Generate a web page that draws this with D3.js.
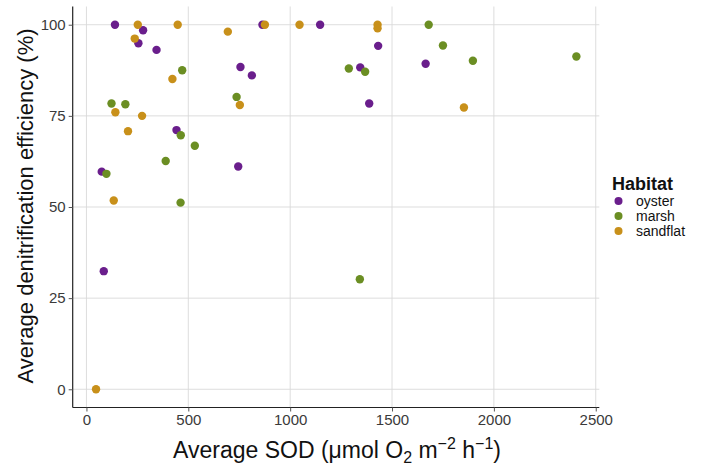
<!DOCTYPE html>
<html>
<head>
<meta charset="utf-8">
<script src="https://cdn.jsdelivr.net/npm/d3@7"></script>
<style>
  body { margin: 0; background: #fff; }
  svg { font-family: "Liberation Sans", Arial, sans-serif; }
</style>
</head>
<body>
<div id="chart"></div>
<script>
// Data: [Average SOD, Average denitrification efficiency]
const oyster = [
    [140, 100], [278, 98.5], [255, 94.9], [344, 93.1], [864, 100], [1147, 100],
    [756, 88.4], [812, 86.1], [442, 71.1], [745, 61.1], [75, 59.7], [85, 32.4],
    [1432, 94.2], [1665, 89.3], [1344, 88.3], [1388, 78.4]
];
const marsh = [
    [470, 87.5], [123, 78.4], [191, 78.2], [737, 80.2], [463, 69.7], [532, 66.8],
    [389, 62.6], [98, 59.1], [462, 51.2], [1680, 100], [1750, 94.3], [1897, 90.1],
    [2405, 91.3], [1288, 88.0], [1368, 87.1], [1342, 30.2]
];
const sandflat = [
    [252, 100], [448, 100], [237, 96.2], [694, 98.1], [876, 100], [1046, 100],
    [422, 85.1], [142, 76.0], [273, 75.0], [753, 78.0], [204, 70.8], [134, 51.8],
    [47, 0], [1429, 100], [1429, 99.0], [1853, 77.3]
];
const habitats = ["oyster", "marsh", "sandflat"];
const habitatColors = ["#6a1e8c", "#6b8e23", "#c8901a"];
const xTicks = [0, 500, 1000, 1500, 2000, 2500];
const yTicks = [0, 25, 50, 75, 100];

const width = 703, height = 467;
const svg = d3.select("#chart")
    .append("svg")
    .attr("width", width)
    .attr("height", height);

// scales (ggplot style 5% expansion)
const xScale = d3.scaleLinear().domain([-67.5, 2517.5]).range([72.7, 599.3]);
const yScale = d3.scaleLinear().domain([-5, 105]).range([407.5, 6.5]);
const color = d3.scaleOrdinal().domain(habitats).range(habitatColors);

// grid lines
svg.append("g").selectAll("line.vg").data(xTicks).enter()
    .append("line")
    .attr("x1", d => xScale(d)).attr("x2", d => xScale(d))
    .attr("y1", yScale(105)).attr("y2", yScale(-5))
    .attr("stroke", "#d9d9d9").attr("stroke-width", 0.9);
svg.append("g").selectAll("line.hg").data(yTicks).enter()
    .append("line")
    .attr("x1", xScale(-67.5)).attr("x2", xScale(2517.5))
    .attr("y1", d => yScale(d)).attr("y2", d => yScale(d))
    .attr("stroke", "#d9d9d9").attr("stroke-width", 0.9);

// axes
const xAxis = d3.axisBottom(xScale).tickValues(xTicks).tickFormat(d3.format("d")).tickSize(4).tickPadding(3);
const yAxis = d3.axisLeft(yScale).tickValues(yTicks).tickFormat(d3.format("d")).tickSize(4).tickPadding(3);

const gx = svg.append("g")
    .attr("transform", "translate(0," + yScale(-5) + ")")
    .call(xAxis);
gx.select(".domain").attr("d", "M" + xScale(-67.5) + ",0H" + xScale(2517.5))
    .attr("stroke", "#222").attr("stroke-width", 1.2);

const gy = svg.append("g")
    .attr("transform", "translate(" + xScale(-67.5) + ",0)")
    .call(yAxis);
gy.select(".domain").attr("d", "M0," + yScale(105) + "V" + yScale(-5))
    .attr("stroke", "#222").attr("stroke-width", 1.2);

svg.selectAll(".tick text")
    .attr("font-size", 15)
    .attr("fill", "#3a3a3a")
    .attr("font-family", "'Liberation Sans', Arial, sans-serif");
svg.selectAll(".tick line").attr("stroke", "#555");

// points
const series = [oyster, marsh, sandflat];
series.forEach((pts, i) => {
    svg.append("g").selectAll("circle").data(pts).enter()
        .append("circle")
        .attr("cx", d => xScale(d[0]))
        .attr("cy", d => yScale(d[1]))
        .attr("r", 4.2)
        .attr("fill", color(habitats[i]));
});

// axis titles
const xTitle = svg.append("text")
    .attr("x", 337)
    .attr("y", 458)
    .attr("text-anchor", "middle")
    .attr("font-size", 23)
    .attr("fill", "#111");
xTitle.append("tspan").text("Average SOD (\u03bcmol O");
xTitle.append("tspan").attr("font-size", 16).attr("dy", 5).text("2");
xTitle.append("tspan").attr("dy", -5).text(" m");
xTitle.append("tspan").attr("font-size", 16).attr("dy", -9).text("\u22122");
xTitle.append("tspan").attr("dy", 9).text(" h");
xTitle.append("tspan").attr("font-size", 16).attr("dy", -9).text("\u22121");
xTitle.append("tspan").attr("dy", 9).text(")");

svg.append("text")
    .attr("transform", "rotate(-90)")
    .attr("x", -206)
    .attr("y", 33)
    .attr("text-anchor", "middle")
    .attr("font-size", 22)
    .attr("fill", "#111")
    .text("Average denitrification efficiency (%)");

// legend
const legend = svg.append("g").attr("transform", "translate(612,0)");
legend.append("text")
    .attr("x", 0).attr("y", 190)
    .attr("font-size", 18)
    .attr("font-weight", "bold")
    .attr("fill", "#111")
    .text("Habitat");
habitats.forEach((h, i) => {
    legend.append("circle")
        .attr("cx", 6.5).attr("cy", 201 + i * 15)
        .attr("r", 4)
        .attr("fill", color(h));
    legend.append("text")
        .attr("x", 24).attr("y", 205.5 + i * 15)
        .attr("font-size", 14)
        .attr("fill", "#111")
        .text(h);
});
</script>
</body>
</html>
